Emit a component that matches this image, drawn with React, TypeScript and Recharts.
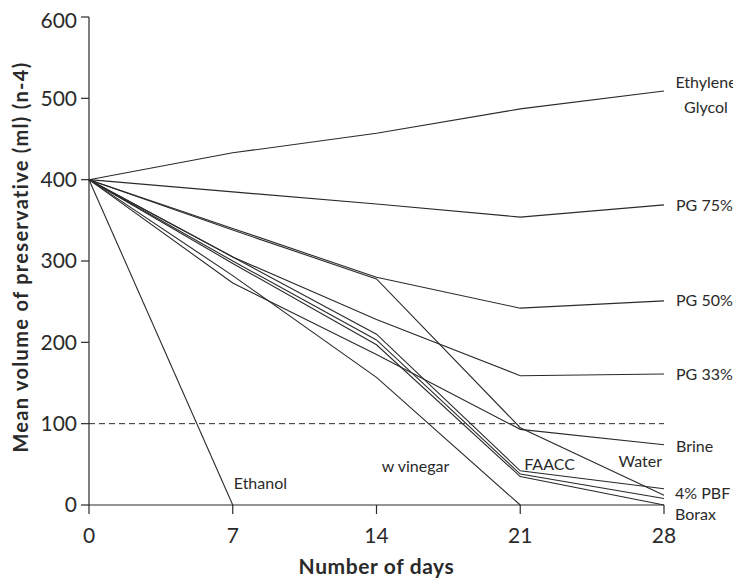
import React from 'react';
import { LineChart, Line, XAxis, YAxis, ReferenceLine, ReferenceDot } from 'recharts';

const days = [0, 7, 14, 21, 28];
const yTicks = [0, 100, 200, 300, 400, 500, 600];
const threshold = 100;

const ethyleneGlycol = [400, 433, 457, 487, 509];
const pg75 = [400, 385, 370, 354, 369];
const pg50 = [400, 340, 280, 242, 251];
const water = [400, 338, 278, 95, 12];
const pg33 = [400, 305, 228, 159, 161];
const brine = [400, 273, 185, 93, 74];
const faacc = [400, 305, 210, 42, 20];
const pbf4 = [400, 300, 203, 38, 8];
const borax = [400, 297, 197, 35, 0];
const wVinegar = [400, 282, 157, 0, null];
const ethanol = [400, 0, null, null, null];

const series: { key: string; values: (number | null)[] }[] = [
  { key: 'eg', values: ethyleneGlycol },
  { key: 'pg75', values: pg75 },
  { key: 'pg50', values: pg50 },
  { key: 'water', values: water },
  { key: 'pg33', values: pg33 },
  { key: 'brine', values: brine },
  { key: 'faacc', values: faacc },
  { key: 'pbf4', values: pbf4 },
  { key: 'borax', values: borax },
  { key: 'wvinegar', values: wVinegar },
  { key: 'ethanol', values: ethanol },
];

const data = days.map((d, i) => {
  const row: any = { day: d };
  series.forEach((s) => {
    const v = s.values[i];
    row[s.key] = v === null ? undefined : v;
  });
  return row;
});

// label anchors in data coordinates, offsets in px
const labels = [
  { lines: ['Ethylene', 'Glycol'], x: 28, y: 509, dx: 42, dy: -9, anchor: 'middle' },
  { lines: ['PG 75%'], x: 28, y: 369, dx: 12, dy: 1, anchor: 'start' },
  { lines: ['PG 50%'], x: 28, y: 251, dx: 12, dy: 0, anchor: 'start' },
  { lines: ['PG 33%'], x: 28, y: 161, dx: 12, dy: 0, anchor: 'start' },
  { lines: ['Brine'], x: 28, y: 74, dx: 12, dy: 2, anchor: 'start' },
  { lines: ['Water'], x: 28, y: 12, dx: -2, dy: -34, anchor: 'end' },
  { lines: ['4% PBF'], x: 28, y: 8, dx: 11, dy: -5, anchor: 'start' },
  { lines: ['Borax'], x: 28, y: 0, dx: 11, dy: 9, anchor: 'start' },
  { lines: ['FAACC'], x: 21, y: 42, dx: 4, dy: -6, anchor: 'start' },
  { lines: ['w vinegar'], x: 14, y: 0, dx: 39, dy: -39, anchor: 'middle' },
  { lines: ['Ethanol'], x: 7, y: 0, dx: 1, dy: -22, anchor: 'start' },
];

const FONT = 'Lato, "Open Sans", sans-serif';
const INK = '#2a2a2a';

const makeLabel = (lines: string[], dx: number, dy: number, anchor: string) => (props: any) => {
  const vb = props.viewBox || {};
  const cx = (vb.x ?? 0) + (vb.width ?? 0) / 2;
  const cy = (vb.y ?? 0) + (vb.height ?? 0) / 2;
  return (
    <text
      x={cx + dx}
      y={cy + dy}
      textAnchor={anchor as any}
      fontFamily={FONT}
      fontSize={16}
      fill={INK}
    >
      {lines.map((l, i) => (
        <tspan key={i} x={cx + dx} dy={i === 0 ? '0.35em' : 25}>
          {l}
        </tspan>
      ))}
    </text>
  );
};

const YTitle = (props: any) => {
  const vb = props.viewBox || {};
  const x = (vb.x ?? 0) + 12;
  const y = (vb.y ?? 0) + (vb.height ?? 0) / 2 - 4;
  return (
    <text
      x={x}
      y={y}
      transform={`rotate(-90 ${x} ${y})`}
      textAnchor="middle"
      dominantBaseline="central"
      fontFamily={FONT}
      fontWeight="bold"
      fontSize={20}
      letterSpacing={1.3}
      fill={INK}
    >
      Mean volume of preservative (ml) (n-4)
    </text>
  );
};

const XTitle = (props: any) => {
  const vb = props.viewBox || {};
  const x = (vb.x ?? 0) + (vb.width ?? 0) / 2;
  const y = (vb.y ?? 0) + 60;
  return (
    <text
      x={x}
      y={y}
      textAnchor="middle"
      dominantBaseline="central"
      fontFamily={FONT}
      fontWeight="bold"
      fontSize={21}
      letterSpacing={0.6}
      fill={INK}
    >
      Number of days
    </text>
  );
};

export default function App() {
  return (
    <div style={{ width: 733, height: 572, background: '#fff' }}>
      <LineChart
        width={733}
        height={572}
        data={data}
        margin={{ top: 9, right: 77, bottom: 0, left: 0 }}
      >
        <XAxis
          dataKey="day"
          type="number"
          domain={[0, 28]}
          ticks={days}
          height={75}
          tickSize={9}
          tickMargin={14}
          axisLine={{ stroke: INK, strokeWidth: 1.2 }}
          tickLine={{ stroke: INK, strokeWidth: 1.2 }}
          tick={{ fontFamily: FONT, fontSize: 21, fill: INK }}
          label={{ content: XTitle }}
        />
        <YAxis
          type="number"
          domain={[0, 600]}
          ticks={yTicks}
          width={81}
          tickSize={8}
          tickMargin={4}
          axisLine={{ stroke: INK, strokeWidth: 1.2 }}
          tickLine={{ stroke: INK, strokeWidth: 1.2 }}
          tick={{ fontFamily: FONT, fontSize: 21, fill: INK }}
          label={{ content: YTitle }}
        />
        <ReferenceLine y={threshold} stroke={INK} strokeWidth={1} strokeDasharray="6 4" />
        {series.map((s) => (
          <Line
            key={s.key}
            dataKey={s.key}
            stroke={INK}
            strokeWidth={1.1}
            dot={false}
            activeDot={false}
            connectNulls={false}
            isAnimationActive={false}
          />
        ))}
        {labels.map((l, i) => (
          <ReferenceDot
            key={i}
            x={l.x}
            y={l.y}
            r={0}
            fill="none"
            stroke="none"
            ifOverflow="visible"
            label={{ content: makeLabel(l.lines, l.dx, l.dy, l.anchor) }}
          />
        ))}
      </LineChart>
    </div>
  );
}
